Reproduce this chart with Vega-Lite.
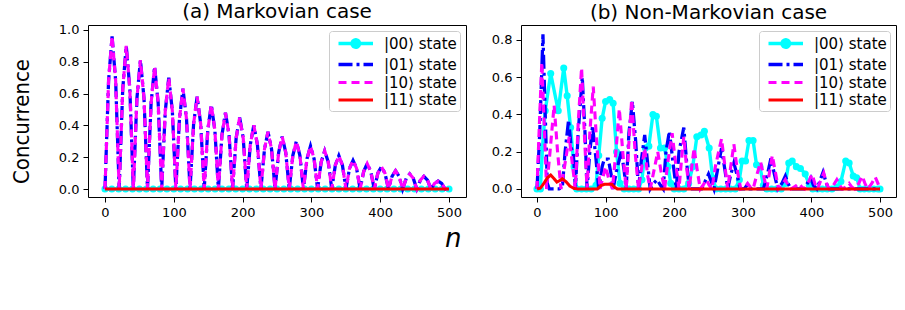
{
  "$schema": "https://vega.github.io/schema/vega-lite/v6.json",
  "background": "white",
  "padding": {"left": 9, "top": 1, "right": 3, "bottom": 5},
  "title": {"text": "n", "orient": "bottom", "anchor": "middle", "font": "DejaVu Sans", "fontStyle": "italic", "fontWeight": "normal", "fontSize": 26, "offset": 6, "color": "#000"},
  "datasets": {
    "markov": [
      {"n": 0, "c": 0, "s": "|00⟩ state"}, {"n": 10, "c": 0, "s": "|00⟩ state"}, {"n": 20, "c": 0, "s": "|00⟩ state"}, {"n": 30, "c": 0, "s": "|00⟩ state"}, {"n": 40, "c": 0, "s": "|00⟩ state"}, {"n": 50, "c": 0, "s": "|00⟩ state"}, {"n": 60, "c": 0, "s": "|00⟩ state"}, {"n": 70, "c": 0, "s": "|00⟩ state"}, {"n": 80, "c": 0, "s": "|00⟩ state"}, {"n": 90, "c": 0, "s": "|00⟩ state"}, {"n": 100, "c": 0, "s": "|00⟩ state"}, {"n": 110, "c": 0, "s": "|00⟩ state"}, {"n": 120, "c": 0, "s": "|00⟩ state"}, {"n": 130, "c": 0, "s": "|00⟩ state"}, {"n": 140, "c": 0, "s": "|00⟩ state"}, {"n": 150, "c": 0, "s": "|00⟩ state"}, {"n": 160, "c": 0, "s": "|00⟩ state"}, {"n": 170, "c": 0, "s": "|00⟩ state"}, {"n": 180, "c": 0, "s": "|00⟩ state"}, {"n": 190, "c": 0, "s": "|00⟩ state"}, {"n": 200, "c": 0, "s": "|00⟩ state"}, {"n": 210, "c": 0, "s": "|00⟩ state"}, {"n": 220, "c": 0, "s": "|00⟩ state"}, {"n": 230, "c": 0, "s": "|00⟩ state"}, {"n": 240, "c": 0, "s": "|00⟩ state"}, {"n": 250, "c": 0, "s": "|00⟩ state"}, {"n": 260, "c": 0, "s": "|00⟩ state"}, {"n": 270, "c": 0, "s": "|00⟩ state"}, {"n": 280, "c": 0, "s": "|00⟩ state"}, {"n": 290, "c": 0, "s": "|00⟩ state"}, {"n": 300, "c": 0, "s": "|00⟩ state"}, {"n": 310, "c": 0, "s": "|00⟩ state"}, {"n": 320, "c": 0, "s": "|00⟩ state"}, {"n": 330, "c": 0, "s": "|00⟩ state"}, {"n": 340, "c": 0, "s": "|00⟩ state"}, {"n": 350, "c": 0, "s": "|00⟩ state"}, {"n": 360, "c": 0, "s": "|00⟩ state"}, {"n": 370, "c": 0, "s": "|00⟩ state"}, {"n": 380, "c": 0, "s": "|00⟩ state"}, {"n": 390, "c": 0, "s": "|00⟩ state"}, {"n": 400, "c": 0, "s": "|00⟩ state"}, {"n": 410, "c": 0, "s": "|00⟩ state"}, {"n": 420, "c": 0, "s": "|00⟩ state"}, {"n": 430, "c": 0, "s": "|00⟩ state"}, {"n": 440, "c": 0, "s": "|00⟩ state"}, {"n": 450, "c": 0, "s": "|00⟩ state"}, {"n": 460, "c": 0, "s": "|00⟩ state"}, {"n": 470, "c": 0, "s": "|00⟩ state"}, {"n": 480, "c": 0, "s": "|00⟩ state"}, {"n": 490, "c": 0, "s": "|00⟩ state"}, {"n": 500, "c": 0, "s": "|00⟩ state"},

      {"n": 0, "c": 0, "s": "|01⟩ state"}, {"n": 5.2, "c": 0.68, "s": "|01⟩ state"}, {"n": 10.3, "c": 0.96, "s": "|01⟩ state"}, {"n": 15.5, "c": 0.68, "s": "|01⟩ state"},
      {"n": 20.6, "c": 0, "s": "|01⟩ state"}, {"n": 25.8, "c": 0.63, "s": "|01⟩ state"}, {"n": 30.9, "c": 0.9, "s": "|01⟩ state"}, {"n": 36.1, "c": 0.63, "s": "|01⟩ state"},
      {"n": 41.2, "c": 0, "s": "|01⟩ state"}, {"n": 46.4, "c": 0.57, "s": "|01⟩ state"}, {"n": 51.5, "c": 0.81, "s": "|01⟩ state"}, {"n": 56.7, "c": 0.57, "s": "|01⟩ state"},
      {"n": 61.8, "c": 0, "s": "|01⟩ state"}, {"n": 67.0, "c": 0.54, "s": "|01⟩ state"}, {"n": 72.1, "c": 0.77, "s": "|01⟩ state"}, {"n": 77.3, "c": 0.54, "s": "|01⟩ state"},
      {"n": 82.4, "c": 0, "s": "|01⟩ state"}, {"n": 87.6, "c": 0.49, "s": "|01⟩ state"}, {"n": 92.7, "c": 0.7, "s": "|01⟩ state"}, {"n": 97.9, "c": 0.49, "s": "|01⟩ state"},
      {"n": 103.0, "c": 0, "s": "|01⟩ state"}, {"n": 108.2, "c": 0.44, "s": "|01⟩ state"}, {"n": 113.3, "c": 0.63, "s": "|01⟩ state"}, {"n": 118.5, "c": 0.44, "s": "|01⟩ state"},
      {"n": 123.6, "c": 0, "s": "|01⟩ state"}, {"n": 128.8, "c": 0.41, "s": "|01⟩ state"}, {"n": 133.9, "c": 0.58, "s": "|01⟩ state"}, {"n": 139.1, "c": 0.41, "s": "|01⟩ state"},
      {"n": 144.2, "c": 0, "s": "|01⟩ state"}, {"n": 149.4, "c": 0.37, "s": "|01⟩ state"}, {"n": 154.5, "c": 0.53, "s": "|01⟩ state"}, {"n": 159.7, "c": 0.37, "s": "|01⟩ state"},
      {"n": 164.8, "c": 0, "s": "|01⟩ state"}, {"n": 170.0, "c": 0.34, "s": "|01⟩ state"}, {"n": 175.1, "c": 0.48, "s": "|01⟩ state"}, {"n": 180.3, "c": 0.34, "s": "|01⟩ state"},
      {"n": 185.4, "c": 0, "s": "|01⟩ state"}, {"n": 190.6, "c": 0.32, "s": "|01⟩ state"}, {"n": 195.7, "c": 0.45, "s": "|01⟩ state"}, {"n": 200.9, "c": 0.32, "s": "|01⟩ state"},
      {"n": 206.0, "c": 0, "s": "|01⟩ state"}, {"n": 211.2, "c": 0.28, "s": "|01⟩ state"}, {"n": 216.3, "c": 0.4, "s": "|01⟩ state"}, {"n": 221.5, "c": 0.28, "s": "|01⟩ state"},
      {"n": 226.6, "c": 0, "s": "|01⟩ state"}, {"n": 231.8, "c": 0.25, "s": "|01⟩ state"}, {"n": 236.9, "c": 0.36, "s": "|01⟩ state"}, {"n": 242.1, "c": 0.25, "s": "|01⟩ state"},
      {"n": 247.2, "c": 0, "s": "|01⟩ state"}, {"n": 252.4, "c": 0.23, "s": "|01⟩ state"}, {"n": 257.5, "c": 0.33, "s": "|01⟩ state"}, {"n": 262.7, "c": 0.23, "s": "|01⟩ state"},
      {"n": 267.8, "c": 0, "s": "|01⟩ state"}, {"n": 273.0, "c": 0.21, "s": "|01⟩ state"}, {"n": 278.1, "c": 0.3, "s": "|01⟩ state"}, {"n": 283.3, "c": 0.21, "s": "|01⟩ state"},
      {"n": 288.4, "c": 0, "s": "|01⟩ state"}, {"n": 293.6, "c": 0.19, "s": "|01⟩ state"}, {"n": 298.7, "c": 0.27, "s": "|01⟩ state"}, {"n": 303.9, "c": 0.19, "s": "|01⟩ state"},
      {"n": 309.0, "c": 0, "s": "|01⟩ state"}, {"n": 314.2, "c": 0.17, "s": "|01⟩ state"}, {"n": 319.3, "c": 0.24, "s": "|01⟩ state"}, {"n": 324.5, "c": 0.17, "s": "|01⟩ state"},
      {"n": 329.6, "c": 0, "s": "|01⟩ state"}, {"n": 334.8, "c": 0.15, "s": "|01⟩ state"}, {"n": 339.9, "c": 0.21, "s": "|01⟩ state"}, {"n": 345.1, "c": 0.15, "s": "|01⟩ state"},
      {"n": 350.2, "c": 0, "s": "|01⟩ state"}, {"n": 355.4, "c": 0.13, "s": "|01⟩ state"}, {"n": 360.5, "c": 0.18, "s": "|01⟩ state"}, {"n": 365.7, "c": 0.13, "s": "|01⟩ state"},
      {"n": 370.8, "c": 0, "s": "|01⟩ state"}, {"n": 376.0, "c": 0.11, "s": "|01⟩ state"}, {"n": 381.1, "c": 0.16, "s": "|01⟩ state"}, {"n": 386.3, "c": 0.11, "s": "|01⟩ state"},
      {"n": 391.4, "c": 0, "s": "|01⟩ state"}, {"n": 396.6, "c": 0.1, "s": "|01⟩ state"}, {"n": 401.7, "c": 0.14, "s": "|01⟩ state"}, {"n": 406.9, "c": 0.1, "s": "|01⟩ state"},
      {"n": 412.0, "c": 0, "s": "|01⟩ state"}, {"n": 417.2, "c": 0.08, "s": "|01⟩ state"}, {"n": 422.3, "c": 0.115, "s": "|01⟩ state"}, {"n": 427.5, "c": 0.08, "s": "|01⟩ state"},
      {"n": 432.6, "c": 0, "s": "|01⟩ state"}, {"n": 437.8, "c": 0.067, "s": "|01⟩ state"}, {"n": 442.9, "c": 0.095, "s": "|01⟩ state"}, {"n": 448.1, "c": 0.067, "s": "|01⟩ state"},
      {"n": 453.2, "c": 0, "s": "|01⟩ state"}, {"n": 458.4, "c": 0.056, "s": "|01⟩ state"}, {"n": 463.5, "c": 0.08, "s": "|01⟩ state"}, {"n": 468.7, "c": 0.056, "s": "|01⟩ state"},
      {"n": 473.8, "c": 0, "s": "|01⟩ state"}, {"n": 479.0, "c": 0.035, "s": "|01⟩ state"}, {"n": 484.1, "c": 0.05, "s": "|01⟩ state"}, {"n": 489.3, "c": 0.035, "s": "|01⟩ state"},
      {"n": 494.4, "c": 0, "s": "|01⟩ state"}, {"n": 500, "c": 0, "s": "|01⟩ state"},

      {"n": 0, "c": 0, "s": "|10⟩ state"}, {"n": 5.2, "c": 0.68, "s": "|10⟩ state"}, {"n": 10.3, "c": 0.96, "s": "|10⟩ state"}, {"n": 15.5, "c": 0.68, "s": "|10⟩ state"},
      {"n": 20.6, "c": 0, "s": "|10⟩ state"}, {"n": 25.8, "c": 0.63, "s": "|10⟩ state"}, {"n": 30.9, "c": 0.9, "s": "|10⟩ state"}, {"n": 36.1, "c": 0.63, "s": "|10⟩ state"},
      {"n": 41.2, "c": 0, "s": "|10⟩ state"}, {"n": 46.4, "c": 0.57, "s": "|10⟩ state"}, {"n": 51.5, "c": 0.81, "s": "|10⟩ state"}, {"n": 56.7, "c": 0.57, "s": "|10⟩ state"},
      {"n": 61.8, "c": 0, "s": "|10⟩ state"}, {"n": 67.0, "c": 0.54, "s": "|10⟩ state"}, {"n": 72.1, "c": 0.77, "s": "|10⟩ state"}, {"n": 77.3, "c": 0.54, "s": "|10⟩ state"},
      {"n": 82.4, "c": 0, "s": "|10⟩ state"}, {"n": 87.6, "c": 0.49, "s": "|10⟩ state"}, {"n": 92.7, "c": 0.7, "s": "|10⟩ state"}, {"n": 97.9, "c": 0.49, "s": "|10⟩ state"},
      {"n": 103.0, "c": 0, "s": "|10⟩ state"}, {"n": 108.2, "c": 0.44, "s": "|10⟩ state"}, {"n": 113.3, "c": 0.63, "s": "|10⟩ state"}, {"n": 118.5, "c": 0.44, "s": "|10⟩ state"},
      {"n": 123.6, "c": 0, "s": "|10⟩ state"}, {"n": 128.8, "c": 0.41, "s": "|10⟩ state"}, {"n": 133.9, "c": 0.58, "s": "|10⟩ state"}, {"n": 139.1, "c": 0.41, "s": "|10⟩ state"},
      {"n": 144.2, "c": 0, "s": "|10⟩ state"}, {"n": 149.4, "c": 0.37, "s": "|10⟩ state"}, {"n": 154.5, "c": 0.53, "s": "|10⟩ state"}, {"n": 159.7, "c": 0.37, "s": "|10⟩ state"},
      {"n": 164.8, "c": 0, "s": "|10⟩ state"}, {"n": 170.0, "c": 0.34, "s": "|10⟩ state"}, {"n": 175.1, "c": 0.48, "s": "|10⟩ state"}, {"n": 180.3, "c": 0.34, "s": "|10⟩ state"},
      {"n": 185.4, "c": 0, "s": "|10⟩ state"}, {"n": 190.6, "c": 0.32, "s": "|10⟩ state"}, {"n": 195.7, "c": 0.45, "s": "|10⟩ state"}, {"n": 200.9, "c": 0.32, "s": "|10⟩ state"},
      {"n": 206.0, "c": 0, "s": "|10⟩ state"}, {"n": 211.2, "c": 0.28, "s": "|10⟩ state"}, {"n": 216.3, "c": 0.4, "s": "|10⟩ state"}, {"n": 221.5, "c": 0.28, "s": "|10⟩ state"},
      {"n": 226.6, "c": 0, "s": "|10⟩ state"}, {"n": 231.8, "c": 0.25, "s": "|10⟩ state"}, {"n": 236.9, "c": 0.36, "s": "|10⟩ state"}, {"n": 242.1, "c": 0.25, "s": "|10⟩ state"},
      {"n": 247.2, "c": 0, "s": "|10⟩ state"}, {"n": 252.4, "c": 0.23, "s": "|10⟩ state"}, {"n": 257.5, "c": 0.33, "s": "|10⟩ state"}, {"n": 262.7, "c": 0.23, "s": "|10⟩ state"},
      {"n": 267.8, "c": 0, "s": "|10⟩ state"}, {"n": 273.0, "c": 0.21, "s": "|10⟩ state"}, {"n": 278.1, "c": 0.3, "s": "|10⟩ state"}, {"n": 283.3, "c": 0.21, "s": "|10⟩ state"},
      {"n": 288.4, "c": 0, "s": "|10⟩ state"}, {"n": 293.6, "c": 0.19, "s": "|10⟩ state"}, {"n": 298.7, "c": 0.27, "s": "|10⟩ state"}, {"n": 303.9, "c": 0.19, "s": "|10⟩ state"},
      {"n": 309.0, "c": 0, "s": "|10⟩ state"}, {"n": 314.2, "c": 0.17, "s": "|10⟩ state"}, {"n": 319.3, "c": 0.24, "s": "|10⟩ state"}, {"n": 324.5, "c": 0.17, "s": "|10⟩ state"},
      {"n": 329.6, "c": 0, "s": "|10⟩ state"}, {"n": 334.8, "c": 0.15, "s": "|10⟩ state"}, {"n": 339.9, "c": 0.21, "s": "|10⟩ state"}, {"n": 345.1, "c": 0.15, "s": "|10⟩ state"},
      {"n": 350.2, "c": 0, "s": "|10⟩ state"}, {"n": 355.4, "c": 0.13, "s": "|10⟩ state"}, {"n": 360.5, "c": 0.18, "s": "|10⟩ state"}, {"n": 365.7, "c": 0.13, "s": "|10⟩ state"},
      {"n": 370.8, "c": 0, "s": "|10⟩ state"}, {"n": 376.0, "c": 0.11, "s": "|10⟩ state"}, {"n": 381.1, "c": 0.16, "s": "|10⟩ state"}, {"n": 386.3, "c": 0.11, "s": "|10⟩ state"},
      {"n": 391.4, "c": 0, "s": "|10⟩ state"}, {"n": 396.6, "c": 0.1, "s": "|10⟩ state"}, {"n": 401.7, "c": 0.14, "s": "|10⟩ state"}, {"n": 406.9, "c": 0.1, "s": "|10⟩ state"},
      {"n": 412.0, "c": 0, "s": "|10⟩ state"}, {"n": 417.2, "c": 0.08, "s": "|10⟩ state"}, {"n": 422.3, "c": 0.115, "s": "|10⟩ state"}, {"n": 427.5, "c": 0.08, "s": "|10⟩ state"},
      {"n": 432.6, "c": 0, "s": "|10⟩ state"}, {"n": 437.8, "c": 0.067, "s": "|10⟩ state"}, {"n": 442.9, "c": 0.095, "s": "|10⟩ state"}, {"n": 448.1, "c": 0.067, "s": "|10⟩ state"},
      {"n": 453.2, "c": 0, "s": "|10⟩ state"}, {"n": 458.4, "c": 0.056, "s": "|10⟩ state"}, {"n": 463.5, "c": 0.08, "s": "|10⟩ state"}, {"n": 468.7, "c": 0.056, "s": "|10⟩ state"},
      {"n": 473.8, "c": 0, "s": "|10⟩ state"}, {"n": 479.0, "c": 0.035, "s": "|10⟩ state"}, {"n": 484.1, "c": 0.05, "s": "|10⟩ state"}, {"n": 489.3, "c": 0.035, "s": "|10⟩ state"},
      {"n": 494.4, "c": 0, "s": "|10⟩ state"}, {"n": 500, "c": 0, "s": "|10⟩ state"},

      {"n": 0, "c": 0, "s": "|11⟩ state"}, {"n": 250, "c": 0, "s": "|11⟩ state"}, {"n": 500, "c": 0, "s": "|11⟩ state"}
    ],
    "nonmarkov": [
      {"n": 0, "c": 0, "s": "|00⟩ state"}, {"n": 5, "c": 0, "s": "|00⟩ state"}, {"n": 8, "c": 0.22, "s": "|00⟩ state"}, {"n": 12, "c": 0.42, "s": "|00⟩ state"}, {"n": 20, "c": 0.62, "s": "|00⟩ state"}, {"n": 31, "c": 0.42, "s": "|00⟩ state"}, {"n": 39, "c": 0.65, "s": "|00⟩ state"}, {"n": 44, "c": 0.5, "s": "|00⟩ state"}, {"n": 49, "c": 0.33, "s": "|00⟩ state"}, {"n": 54, "c": 0.12, "s": "|00⟩ state"}, {"n": 58, "c": 0, "s": "|00⟩ state"}, {"n": 65, "c": 0, "s": "|00⟩ state"}, {"n": 72, "c": 0, "s": "|00⟩ state"}, {"n": 79, "c": 0, "s": "|00⟩ state"}, {"n": 86, "c": 0.02, "s": "|00⟩ state"}, {"n": 90, "c": 0.18, "s": "|00⟩ state"}, {"n": 95, "c": 0.38, "s": "|00⟩ state"}, {"n": 100, "c": 0.47, "s": "|00⟩ state"}, {"n": 106, "c": 0.48, "s": "|00⟩ state"}, {"n": 111, "c": 0.46, "s": "|00⟩ state"}, {"n": 116, "c": 0.2, "s": "|00⟩ state"}, {"n": 121, "c": 0.03, "s": "|00⟩ state"}, {"n": 127, "c": 0, "s": "|00⟩ state"}, {"n": 134, "c": 0, "s": "|00⟩ state"}, {"n": 141, "c": 0, "s": "|00⟩ state"}, {"n": 148, "c": 0, "s": "|00⟩ state"}, {"n": 153, "c": 0.05, "s": "|00⟩ state"}, {"n": 158, "c": 0.22, "s": "|00⟩ state"}, {"n": 163, "c": 0.23, "s": "|00⟩ state"}, {"n": 169, "c": 0.4, "s": "|00⟩ state"}, {"n": 174, "c": 0.39, "s": "|00⟩ state"}, {"n": 180, "c": 0.22, "s": "|00⟩ state"}, {"n": 186, "c": 0.22, "s": "|00⟩ state"}, {"n": 191, "c": 0.12, "s": "|00⟩ state"}, {"n": 195, "c": 0.03, "s": "|00⟩ state"}, {"n": 200, "c": 0, "s": "|00⟩ state"}, {"n": 207, "c": 0, "s": "|00⟩ state"}, {"n": 214, "c": 0, "s": "|00⟩ state"}, {"n": 221, "c": 0.03, "s": "|00⟩ state"}, {"n": 227, "c": 0.12, "s": "|00⟩ state"}, {"n": 233, "c": 0.28, "s": "|00⟩ state"}, {"n": 239, "c": 0.29, "s": "|00⟩ state"}, {"n": 244, "c": 0.31, "s": "|00⟩ state"}, {"n": 251, "c": 0.22, "s": "|00⟩ state"}, {"n": 256, "c": 0.06, "s": "|00⟩ state"}, {"n": 261, "c": 0, "s": "|00⟩ state"}, {"n": 268, "c": 0, "s": "|00⟩ state"}, {"n": 275, "c": 0, "s": "|00⟩ state"}, {"n": 282, "c": 0, "s": "|00⟩ state"}, {"n": 289, "c": 0, "s": "|00⟩ state"}, {"n": 295, "c": 0.05, "s": "|00⟩ state"}, {"n": 299, "c": 0.15, "s": "|00⟩ state"}, {"n": 304, "c": 0.15, "s": "|00⟩ state"}, {"n": 309, "c": 0.26, "s": "|00⟩ state"}, {"n": 315, "c": 0.26, "s": "|00⟩ state"}, {"n": 320, "c": 0.13, "s": "|00⟩ state"}, {"n": 325, "c": 0.12, "s": "|00⟩ state"}, {"n": 330, "c": 0.02, "s": "|00⟩ state"}, {"n": 335, "c": 0, "s": "|00⟩ state"}, {"n": 342, "c": 0, "s": "|00⟩ state"}, {"n": 349, "c": 0, "s": "|00⟩ state"}, {"n": 356, "c": 0, "s": "|00⟩ state"}, {"n": 362, "c": 0.03, "s": "|00⟩ state"}, {"n": 367, "c": 0.14, "s": "|00⟩ state"}, {"n": 372, "c": 0.15, "s": "|00⟩ state"}, {"n": 378, "c": 0.12, "s": "|00⟩ state"}, {"n": 384, "c": 0.11, "s": "|00⟩ state"}, {"n": 391, "c": 0.08, "s": "|00⟩ state"}, {"n": 397, "c": 0.02, "s": "|00⟩ state"}, {"n": 402, "c": 0, "s": "|00⟩ state"}, {"n": 409, "c": 0, "s": "|00⟩ state"}, {"n": 416, "c": 0, "s": "|00⟩ state"}, {"n": 423, "c": 0, "s": "|00⟩ state"}, {"n": 430, "c": 0, "s": "|00⟩ state"}, {"n": 437, "c": 0.01, "s": "|00⟩ state"}, {"n": 443, "c": 0.04, "s": "|00⟩ state"}, {"n": 450, "c": 0.15, "s": "|00⟩ state"}, {"n": 455, "c": 0.14, "s": "|00⟩ state"}, {"n": 461, "c": 0.07, "s": "|00⟩ state"}, {"n": 466, "c": 0.06, "s": "|00⟩ state"}, {"n": 471, "c": 0, "s": "|00⟩ state"}, {"n": 477, "c": 0, "s": "|00⟩ state"}, {"n": 484, "c": 0, "s": "|00⟩ state"}, {"n": 491, "c": 0, "s": "|00⟩ state"}, {"n": 497, "c": 0, "s": "|00⟩ state"}, {"n": 500, "c": 0, "s": "|00⟩ state"},

      {"n": 0, "c": 0, "s": "|01⟩ state"}, {"n": 4, "c": 0.3, "s": "|01⟩ state"}, {"n": 8.7, "c": 0.83, "s": "|01⟩ state"}, {"n": 12, "c": 0.4, "s": "|01⟩ state"}, {"n": 15, "c": 0.03, "s": "|01⟩ state"}, {"n": 18, "c": 0, "s": "|01⟩ state"}, {"n": 25, "c": 0, "s": "|01⟩ state"}, {"n": 32, "c": 0, "s": "|01⟩ state"}, {"n": 37, "c": 0.01, "s": "|01⟩ state"}, {"n": 41, "c": 0.2, "s": "|01⟩ state"}, {"n": 46, "c": 0.37, "s": "|01⟩ state"}, {"n": 50, "c": 0.22, "s": "|01⟩ state"}, {"n": 53, "c": 0.19, "s": "|01⟩ state"}, {"n": 56, "c": 0, "s": "|01⟩ state"}, {"n": 60, "c": 0.3, "s": "|01⟩ state"}, {"n": 66, "c": 0.6, "s": "|01⟩ state"}, {"n": 70, "c": 0.3, "s": "|01⟩ state"}, {"n": 73, "c": 0, "s": "|01⟩ state"}, {"n": 77, "c": 0.2, "s": "|01⟩ state"}, {"n": 81, "c": 0.34, "s": "|01⟩ state"}, {"n": 86, "c": 0.16, "s": "|01⟩ state"}, {"n": 90, "c": 0, "s": "|01⟩ state"}, {"n": 95, "c": 0.12, "s": "|01⟩ state"}, {"n": 98, "c": 0.16, "s": "|01⟩ state"}, {"n": 104, "c": 0.16, "s": "|01⟩ state"}, {"n": 108, "c": 0.08, "s": "|01⟩ state"}, {"n": 111, "c": 0, "s": "|01⟩ state"}, {"n": 116, "c": 0.1, "s": "|01⟩ state"}, {"n": 123, "c": 0.2, "s": "|01⟩ state"}, {"n": 127, "c": 0.1, "s": "|01⟩ state"}, {"n": 130, "c": 0, "s": "|01⟩ state"}, {"n": 134, "c": 0.3, "s": "|01⟩ state"}, {"n": 139, "c": 0.47, "s": "|01⟩ state"}, {"n": 144, "c": 0.25, "s": "|01⟩ state"}, {"n": 148, "c": 0, "s": "|01⟩ state"}, {"n": 152, "c": 0.15, "s": "|01⟩ state"}, {"n": 157, "c": 0.29, "s": "|01⟩ state"}, {"n": 161, "c": 0.15, "s": "|01⟩ state"}, {"n": 165, "c": 0, "s": "|01⟩ state"}, {"n": 170, "c": 0.03, "s": "|01⟩ state"}, {"n": 175, "c": 0.05, "s": "|01⟩ state"}, {"n": 180, "c": 0.02, "s": "|01⟩ state"}, {"n": 184, "c": 0, "s": "|01⟩ state"}, {"n": 188, "c": 0.2, "s": "|01⟩ state"}, {"n": 193, "c": 0.31, "s": "|01⟩ state"}, {"n": 198, "c": 0.15, "s": "|01⟩ state"}, {"n": 203, "c": 0, "s": "|01⟩ state"}, {"n": 207, "c": 0.2, "s": "|01⟩ state"}, {"n": 214, "c": 0.33, "s": "|01⟩ state"}, {"n": 218, "c": 0.15, "s": "|01⟩ state"}, {"n": 222, "c": 0, "s": "|01⟩ state"}, {"n": 230, "c": 0, "s": "|01⟩ state"}, {"n": 240, "c": 0, "s": "|01⟩ state"}, {"n": 245, "c": 0.04, "s": "|01⟩ state"}, {"n": 250, "c": 0.08, "s": "|01⟩ state"}, {"n": 254, "c": 0.04, "s": "|01⟩ state"}, {"n": 258, "c": 0, "s": "|01⟩ state"}, {"n": 263, "c": 0.1, "s": "|01⟩ state"}, {"n": 269, "c": 0.22, "s": "|01⟩ state"}, {"n": 274, "c": 0.1, "s": "|01⟩ state"}, {"n": 278, "c": 0, "s": "|01⟩ state"}, {"n": 282, "c": 0.07, "s": "|01⟩ state"}, {"n": 287, "c": 0.14, "s": "|01⟩ state"}, {"n": 292, "c": 0.07, "s": "|01⟩ state"}, {"n": 296, "c": 0, "s": "|01⟩ state"}, {"n": 302, "c": 0, "s": "|01⟩ state"}, {"n": 306, "c": 0.02, "s": "|01⟩ state"}, {"n": 310, "c": 0, "s": "|01⟩ state"}, {"n": 320, "c": 0, "s": "|01⟩ state"}, {"n": 330, "c": 0, "s": "|01⟩ state"}, {"n": 336, "c": 0.08, "s": "|01⟩ state"}, {"n": 341, "c": 0.165, "s": "|01⟩ state"}, {"n": 346, "c": 0.08, "s": "|01⟩ state"}, {"n": 351, "c": 0, "s": "|01⟩ state"}, {"n": 357, "c": 0.03, "s": "|01⟩ state"}, {"n": 362, "c": 0.07, "s": "|01⟩ state"}, {"n": 366, "c": 0.03, "s": "|01⟩ state"}, {"n": 370, "c": 0, "s": "|01⟩ state"}, {"n": 380, "c": 0, "s": "|01⟩ state"}, {"n": 389, "c": 0, "s": "|01⟩ state"}, {"n": 394, "c": 0.03, "s": "|01⟩ state"}, {"n": 399, "c": 0.06, "s": "|01⟩ state"}, {"n": 403, "c": 0.02, "s": "|01⟩ state"}, {"n": 408, "c": 0, "s": "|01⟩ state"}, {"n": 412, "c": 0.04, "s": "|01⟩ state"}, {"n": 417, "c": 0.09, "s": "|01⟩ state"}, {"n": 421, "c": 0.04, "s": "|01⟩ state"}, {"n": 425, "c": 0, "s": "|01⟩ state"}, {"n": 440, "c": 0, "s": "|01⟩ state"}, {"n": 460, "c": 0, "s": "|01⟩ state"}, {"n": 480, "c": 0, "s": "|01⟩ state"}, {"n": 500, "c": 0, "s": "|01⟩ state"},

      {"n": 0, "c": 0, "s": "|10⟩ state"}, {"n": 3, "c": 0.3, "s": "|10⟩ state"}, {"n": 7, "c": 0.68, "s": "|10⟩ state"}, {"n": 11, "c": 0.3, "s": "|10⟩ state"}, {"n": 14, "c": 0, "s": "|10⟩ state"}, {"n": 19, "c": 0.2, "s": "|10⟩ state"}, {"n": 25, "c": 0.45, "s": "|10⟩ state"}, {"n": 30, "c": 0.2, "s": "|10⟩ state"}, {"n": 35, "c": 0, "s": "|10⟩ state"}, {"n": 41, "c": 0.14, "s": "|10⟩ state"}, {"n": 47, "c": 0.28, "s": "|10⟩ state"}, {"n": 52, "c": 0.12, "s": "|10⟩ state"}, {"n": 56, "c": 0, "s": "|10⟩ state"}, {"n": 60, "c": 0.35, "s": "|10⟩ state"}, {"n": 65, "c": 0.65, "s": "|10⟩ state"}, {"n": 69, "c": 0.3, "s": "|10⟩ state"}, {"n": 73, "c": 0, "s": "|10⟩ state"}, {"n": 77, "c": 0.3, "s": "|10⟩ state"}, {"n": 82, "c": 0.55, "s": "|10⟩ state"}, {"n": 87, "c": 0.25, "s": "|10⟩ state"}, {"n": 92, "c": 0, "s": "|10⟩ state"}, {"n": 96, "c": 0.06, "s": "|10⟩ state"}, {"n": 100, "c": 0.12, "s": "|10⟩ state"}, {"n": 105, "c": 0.05, "s": "|10⟩ state"}, {"n": 110, "c": 0, "s": "|10⟩ state"}, {"n": 115, "c": 0.2, "s": "|10⟩ state"}, {"n": 120, "c": 0.43, "s": "|10⟩ state"}, {"n": 125, "c": 0.2, "s": "|10⟩ state"}, {"n": 130, "c": 0, "s": "|10⟩ state"}, {"n": 134, "c": 0.25, "s": "|10⟩ state"}, {"n": 138, "c": 0.48, "s": "|10⟩ state"}, {"n": 143, "c": 0.2, "s": "|10⟩ state"}, {"n": 148, "c": 0, "s": "|10⟩ state"}, {"n": 152, "c": 0.1, "s": "|10⟩ state"}, {"n": 157, "c": 0.22, "s": "|10⟩ state"}, {"n": 161, "c": 0.08, "s": "|10⟩ state"}, {"n": 165, "c": 0, "s": "|10⟩ state"}, {"n": 170, "c": 0.09, "s": "|10⟩ state"}, {"n": 176, "c": 0.2, "s": "|10⟩ state"}, {"n": 181, "c": 0.09, "s": "|10⟩ state"}, {"n": 186, "c": 0, "s": "|10⟩ state"}, {"n": 191, "c": 0.15, "s": "|10⟩ state"}, {"n": 197, "c": 0.3, "s": "|10⟩ state"}, {"n": 202, "c": 0.14, "s": "|10⟩ state"}, {"n": 207, "c": 0, "s": "|10⟩ state"}, {"n": 210, "c": 0.13, "s": "|10⟩ state"}, {"n": 214, "c": 0.28, "s": "|10⟩ state"}, {"n": 218, "c": 0.12, "s": "|10⟩ state"}, {"n": 222, "c": 0, "s": "|10⟩ state"}, {"n": 225, "c": 0.1, "s": "|10⟩ state"}, {"n": 229, "c": 0.22, "s": "|10⟩ state"}, {"n": 234, "c": 0.09, "s": "|10⟩ state"}, {"n": 238, "c": 0, "s": "|10⟩ state"}, {"n": 242, "c": 0.02, "s": "|10⟩ state"}, {"n": 247, "c": 0.05, "s": "|10⟩ state"}, {"n": 251, "c": 0.02, "s": "|10⟩ state"}, {"n": 255, "c": 0, "s": "|10⟩ state"}, {"n": 260, "c": 0.12, "s": "|10⟩ state"}, {"n": 269, "c": 0.27, "s": "|10⟩ state"}, {"n": 274, "c": 0.12, "s": "|10⟩ state"}, {"n": 278, "c": 0, "s": "|10⟩ state"}, {"n": 282, "c": 0.11, "s": "|10⟩ state"}, {"n": 287, "c": 0.24, "s": "|10⟩ state"}, {"n": 292, "c": 0.1, "s": "|10⟩ state"}, {"n": 297, "c": 0, "s": "|10⟩ state"}, {"n": 303, "c": 0.01, "s": "|10⟩ state"}, {"n": 307, "c": 0.03, "s": "|10⟩ state"}, {"n": 311, "c": 0.01, "s": "|10⟩ state"}, {"n": 315, "c": 0, "s": "|10⟩ state"}, {"n": 320, "c": 0.07, "s": "|10⟩ state"}, {"n": 326, "c": 0.145, "s": "|10⟩ state"}, {"n": 331, "c": 0.06, "s": "|10⟩ state"}, {"n": 335, "c": 0, "s": "|10⟩ state"}, {"n": 339, "c": 0.09, "s": "|10⟩ state"}, {"n": 343, "c": 0.18, "s": "|10⟩ state"}, {"n": 348, "c": 0.08, "s": "|10⟩ state"}, {"n": 352, "c": 0, "s": "|10⟩ state"}, {"n": 357, "c": 0.02, "s": "|10⟩ state"}, {"n": 362, "c": 0.05, "s": "|10⟩ state"}, {"n": 366, "c": 0.02, "s": "|10⟩ state"}, {"n": 370, "c": 0, "s": "|10⟩ state"}, {"n": 377, "c": 0.015, "s": "|10⟩ state"}, {"n": 382, "c": 0.03, "s": "|10⟩ state"}, {"n": 386, "c": 0.01, "s": "|10⟩ state"}, {"n": 390, "c": 0, "s": "|10⟩ state"}, {"n": 396, "c": 0.04, "s": "|10⟩ state"}, {"n": 401, "c": 0.08, "s": "|10⟩ state"}, {"n": 405, "c": 0.03, "s": "|10⟩ state"}, {"n": 409, "c": 0, "s": "|10⟩ state"}, {"n": 413, "c": 0.04, "s": "|10⟩ state"}, {"n": 418, "c": 0.085, "s": "|10⟩ state"}, {"n": 422, "c": 0.03, "s": "|10⟩ state"}, {"n": 426, "c": 0, "s": "|10⟩ state"}, {"n": 432, "c": 0.02, "s": "|10⟩ state"}, {"n": 437, "c": 0.05, "s": "|10⟩ state"}, {"n": 441, "c": 0.02, "s": "|10⟩ state"}, {"n": 445, "c": 0, "s": "|10⟩ state"}, {"n": 450, "c": 0.01, "s": "|10⟩ state"}, {"n": 455, "c": 0.03, "s": "|10⟩ state"}, {"n": 459, "c": 0.01, "s": "|10⟩ state"}, {"n": 463, "c": 0, "s": "|10⟩ state"}, {"n": 469, "c": 0.03, "s": "|10⟩ state"}, {"n": 474, "c": 0.07, "s": "|10⟩ state"}, {"n": 478, "c": 0.03, "s": "|10⟩ state"}, {"n": 482, "c": 0, "s": "|10⟩ state"}, {"n": 488, "c": 0.03, "s": "|10⟩ state"}, {"n": 493, "c": 0.065, "s": "|10⟩ state"}, {"n": 497, "c": 0.03, "s": "|10⟩ state"}, {"n": 500, "c": 0, "s": "|10⟩ state"},

      {"n": 0, "c": 0, "s": "|11⟩ state"}, {"n": 5, "c": 0.005, "s": "|11⟩ state"}, {"n": 10, "c": 0.03, "s": "|11⟩ state"}, {"n": 15, "c": 0.06, "s": "|11⟩ state"}, {"n": 20, "c": 0.075, "s": "|11⟩ state"}, {"n": 25, "c": 0.055, "s": "|11⟩ state"}, {"n": 29, "c": 0.037, "s": "|11⟩ state"}, {"n": 33, "c": 0.045, "s": "|11⟩ state"}, {"n": 37, "c": 0.055, "s": "|11⟩ state"}, {"n": 42, "c": 0.04, "s": "|11⟩ state"}, {"n": 48, "c": 0.015, "s": "|11⟩ state"}, {"n": 54, "c": 0.003, "s": "|11⟩ state"}, {"n": 60, "c": 0, "s": "|11⟩ state"}, {"n": 75, "c": 0, "s": "|11⟩ state"}, {"n": 88, "c": 0, "s": "|11⟩ state"}, {"n": 93, "c": 0.018, "s": "|11⟩ state"}, {"n": 99, "c": 0.026, "s": "|11⟩ state"}, {"n": 105, "c": 0.026, "s": "|11⟩ state"}, {"n": 109, "c": 0.026, "s": "|11⟩ state"}, {"n": 113, "c": 0.01, "s": "|11⟩ state"}, {"n": 117, "c": 0, "s": "|11⟩ state"}, {"n": 200, "c": 0, "s": "|11⟩ state"}, {"n": 300, "c": 0, "s": "|11⟩ state"}, {"n": 400, "c": 0, "s": "|11⟩ state"}, {"n": 500, "c": 0, "s": "|11⟩ state"}
    ]
  },
  "hconcat": [
    {
      "width": 378,
      "height": 172,
      "title": "(a) Markovian case",
      "data": {"name": "markov"},
      "encoding": {
        "x": {"field": "n", "type": "quantitative", "scale": {"domain": [-24.7, 524.7], "nice": false, "zero": false}, "axis": {"values": [0, 100, 200, 300, 400, 500], "title": null}},
        "y": {"field": "c", "type": "quantitative", "scale": {"domain": [-0.05, 1.031], "nice": false, "zero": false}, "axis": {"values": [0, 0.2, 0.4, 0.6, 0.8, 1], "labelExpr": "format(datum.value, '.1f')", "labelOverlap": false, "labelSeparation": 0, "title": "Concurrence", "titleFont": "Liberation Sans Narrow, DejaVu Sans Condensed, Roboto Condensed, Roboto, sans-serif", "titleFontSize": 22, "titleFontWeight": "normal", "titlePadding": 25, "titleY": 96}}
      },
      "layer": [
        {
          "transform": [{"filter": "datum.s === '|00⟩ state'"}],
          "mark": {"type": "point", "filled": true, "size": 50, "color": "#00ffff", "opacity": 1}
        },
        {
          "mark": {"type": "line", "clip": true},
          "encoding": {
            "color": {"field": "s", "type": "nominal", "scale": {"domain": ["|00⟩ state", "|01⟩ state", "|10⟩ state", "|11⟩ state"], "range": ["#00ffff", "#0000ff", "#ff00ff", "#ff0000"]}, "legend": {"orient": "top-right", "offset": 6, "title": null, "encode": {"symbols": {"update": {"shape": {"signal": "datum.value === '|00⟩ state' ? 'M-0.4,0H4.2M1.4,0A0.5,0.5 0 1,1 2.4,0A0.5,0.5 0 1,1 1.4,0Z' : 'M-0.4,0H4.2'"}, "fill": {"signal": "datum.value === '|00⟩ state' ? '#00ffff' : 'transparent'"}}}}}},
            "strokeDash": {"field": "s", "type": "nominal", "scale": {"domain": ["|00⟩ state", "|01⟩ state", "|10⟩ state", "|11⟩ state"], "range": [[1, 0], [14, 4, 3, 4], [8, 5], [1, 0]]}, "legend": {"orient": "top-right", "offset": 6, "title": null}},
            "strokeWidth": {"field": "s", "type": "nominal", "scale": {"domain": ["|00⟩ state", "|01⟩ state", "|10⟩ state", "|11⟩ state"], "range": [3.4, 3, 3, 2.5]}, "legend": null}
          }
        }
      ]
    },
    {
      "width": 375,
      "height": 172,
      "title": "(b) Non-Markovian case",
      "data": {"name": "nonmarkov"},
      "encoding": {
        "x": {"field": "n", "type": "quantitative", "scale": {"domain": [-23.3, 523.3], "nice": false, "zero": false}, "axis": {"values": [0, 100, 200, 300, 400, 500], "title": null}},
        "y": {"field": "c", "type": "quantitative", "scale": {"domain": [-0.043, 0.8805], "nice": false, "zero": false}, "axis": {"values": [0, 0.2, 0.4, 0.6, 0.8], "labelExpr": "format(datum.value, '.1f')", "labelOverlap": false, "title": null}}
      },
      "layer": [
        {
          "transform": [{"filter": "datum.s === '|00⟩ state'"}],
          "mark": {"type": "point", "filled": true, "size": 50, "color": "#00ffff", "opacity": 1}
        },
        {
          "mark": {"type": "line", "clip": true},
          "encoding": {
            "color": {"field": "s", "type": "nominal", "scale": {"domain": ["|00⟩ state", "|01⟩ state", "|10⟩ state", "|11⟩ state"], "range": ["#00ffff", "#0000ff", "#ff00ff", "#ff0000"]}, "legend": {"orient": "top-right", "offset": 6, "title": null, "encode": {"symbols": {"update": {"shape": {"signal": "datum.value === '|00⟩ state' ? 'M-0.4,0H4.2M1.4,0A0.5,0.5 0 1,1 2.4,0A0.5,0.5 0 1,1 1.4,0Z' : 'M-0.4,0H4.2'"}, "fill": {"signal": "datum.value === '|00⟩ state' ? '#00ffff' : 'transparent'"}}}}}},
            "strokeDash": {"field": "s", "type": "nominal", "scale": {"domain": ["|00⟩ state", "|01⟩ state", "|10⟩ state", "|11⟩ state"], "range": [[1, 0], [14, 4, 3, 4], [8, 5], [1, 0]]}, "legend": {"orient": "top-right", "offset": 6, "title": null}},
            "strokeWidth": {"field": "s", "type": "nominal", "scale": {"domain": ["|00⟩ state", "|01⟩ state", "|10⟩ state", "|11⟩ state"], "range": [3.4, 3, 3, 2.5]}, "legend": null}
          }
        }
      ]
    }
  ],
  "spacing": 23,
  "resolve": {"scale": {"color": "independent", "strokeDash": "independent", "strokeWidth": "independent"}, "legend": {"color": "independent", "strokeDash": "independent"}},
  "config": {
    "view": {"stroke": "#000", "strokeWidth": 1},
    "axis": {"grid": false, "domain": false, "ticks": true, "tickColor": "#000", "tickSize": 5, "labelFont": "DejaVu Sans", "labelFontSize": 13, "labelColor": "#000", "labelPadding": 4, "labelOverlap": false},
    "title": {"font": "DejaVu Sans", "fontSize": 20, "fontWeight": "normal", "color": "#000", "offset": 2},
    "legend": {"fillColor": "white", "strokeColor": "#cccccc", "cornerRadius": 3, "padding": 3, "symbolSize": 225, "symbolStrokeWidth": 2.8, "labelFont": "DejaVu Sans", "labelFontSize": 15, "labelColor": "#000", "labelOffset": 33, "rowPadding": 0}
  }
}
